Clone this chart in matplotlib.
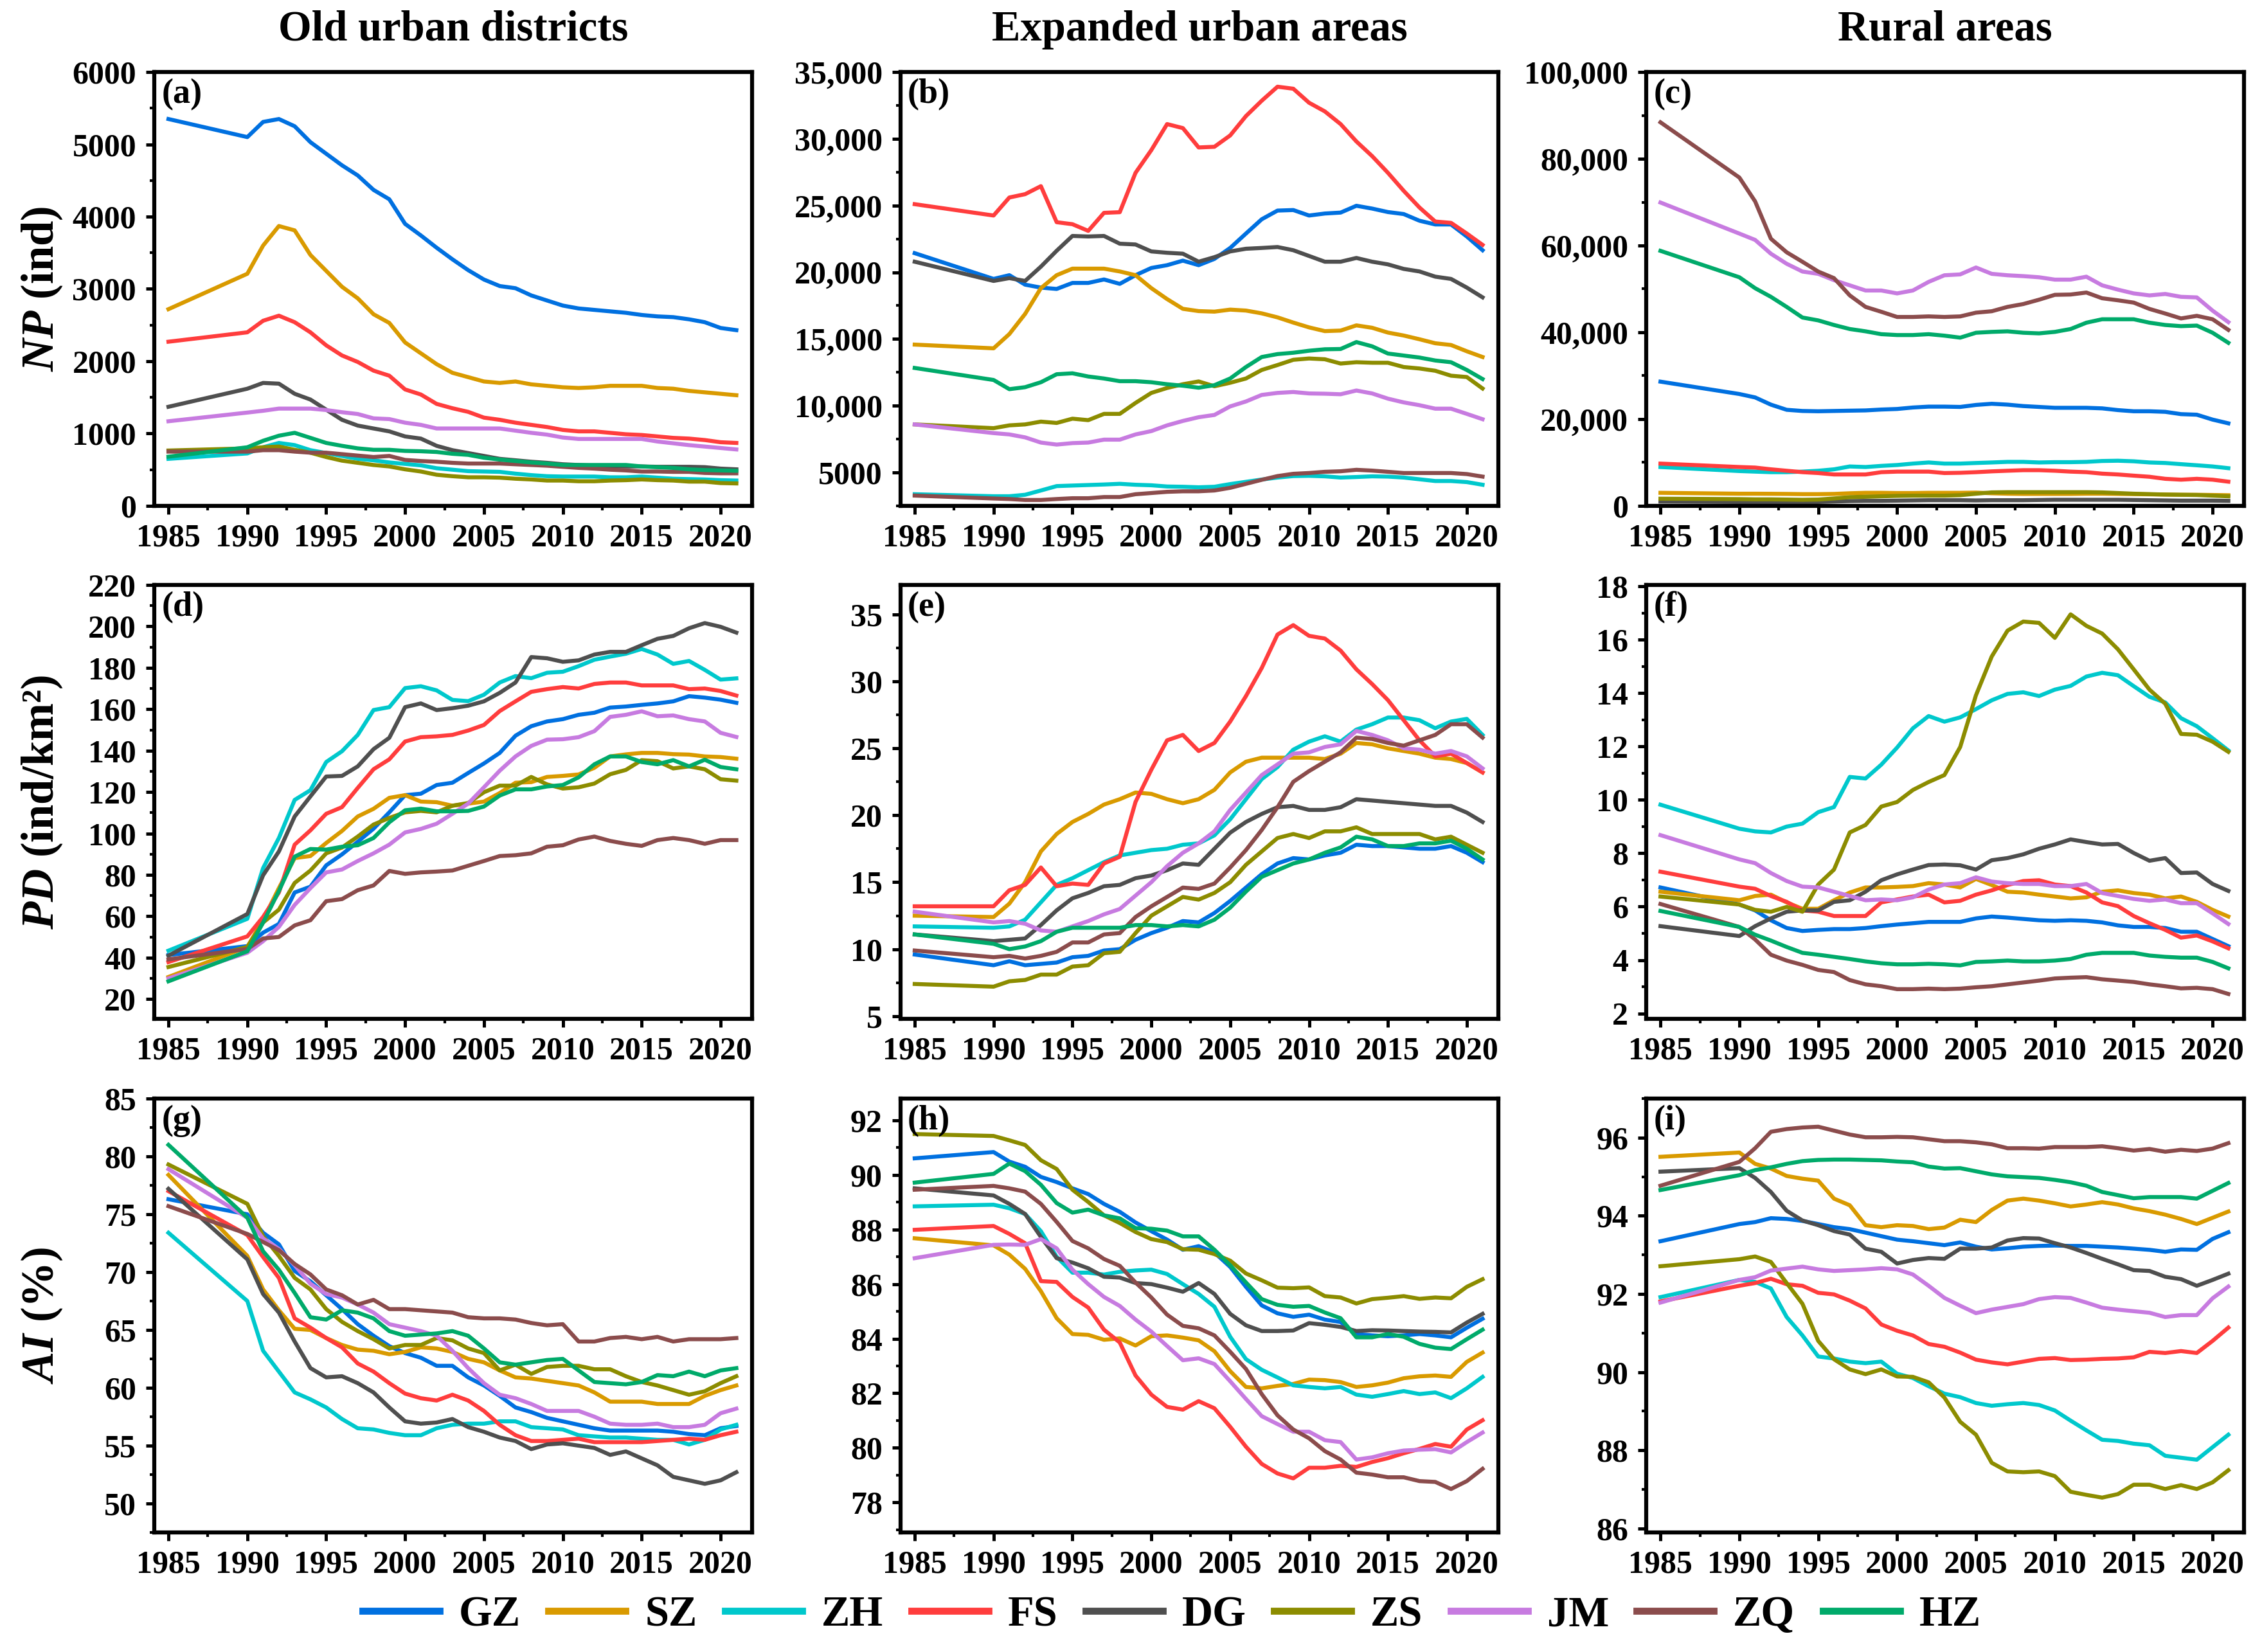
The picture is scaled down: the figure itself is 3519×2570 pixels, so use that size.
import matplotlib
matplotlib.use("Agg")
import matplotlib.pyplot as plt
from matplotlib.ticker import MultipleLocator, FuncFormatter

plt.rcParams["font.family"] = ["Liberation Serif", "DejaVu Serif"]
plt.rcParams["font.weight"] = "bold"
plt.rcParams["axes.labelweight"] = "bold"
plt.rcParams["mathtext.fontset"] = "custom"
plt.rcParams["mathtext.it"] = "Liberation Serif:bold:italic"
plt.rcParams["mathtext.rm"] = "Liberation Serif:bold"

YEARS = [1985] + list(range(1990, 2022))
CITIES = ["GZ", "SZ", "ZH", "FS", "DG", "ZS", "JM", "ZQ", "HZ"]
COLORS = ["#0070E0", "#D99A00", "#00C8CC", "#FF3D3D", "#4F4F4F",
          "#8C8C00", "#C77BE0", "#8B4C4C", "#00AA6A"]
COL_TITLES = ["Old urban districts", "Expanded urban areas", "Rural areas"]
ROW_LABELS = ["$NP$ (ind)", "$PD$ (ind/km²)", "$AI$ (%)"]

# NP, old urban districts
np_old = {
    "GZ": [5350, 5100, 5310, 5350, 5250, 5030, 4870, 4710, 4570, 4370, 4240, 3900, 3740, 3570, 3410, 3260, 3130,
           3040, 3010, 2910, 2840, 2770, 2730, 2710, 2690, 2670, 2640, 2620, 2610, 2580, 2540, 2460, 2430],
    "SZ": [2720, 3210, 3600, 3870, 3810, 3470, 3250, 3030, 2870, 2650, 2530, 2260, 2110, 1960, 1840, 1780, 1720,
           1700, 1720, 1680, 1660, 1640, 1630, 1640, 1660, 1660, 1660, 1630, 1620, 1590, 1570, 1550, 1530],
    "ZH": [650, 725, 810, 870, 840, 770, 730, 690, 650, 630, 600, 580, 560, 520, 500, 480, 475,
           470, 445, 425, 410, 405, 405, 405, 395, 395, 405, 390, 375, 370, 365, 355, 350],
    "FS": [2270, 2400, 2560, 2630, 2540, 2400, 2220, 2080, 1990, 1870, 1800, 1610, 1540, 1410, 1350, 1300, 1220,
           1190, 1150, 1120, 1090, 1050, 1030, 1030, 1010, 990, 980, 960, 940, 930, 910, 880, 870],
    "DG": [1370, 1620, 1700, 1690, 1550, 1470, 1330, 1190, 1110, 1070, 1030, 960, 930, 830, 770, 730, 690,
           650, 630, 610, 595, 575, 565, 555, 545, 545, 545, 540, 540, 540, 535, 515, 505],
    "ZS": [765, 795, 810, 820, 775, 735, 675, 625, 595, 565, 545, 505, 475, 430, 410, 395, 395,
           390, 375, 365, 350, 350, 340, 340, 350, 355, 365, 355, 350, 335, 335, 315, 310],
    "JM": [1170, 1290, 1315, 1345, 1345, 1345, 1325, 1295, 1270, 1210, 1200, 1150, 1120, 1070, 1070, 1070, 1070,
           1070, 1040, 1010, 985, 945, 925, 925, 925, 925, 925, 890, 865, 840, 820, 800, 780],
    "ZQ": [750, 750, 770, 770, 750, 735, 735, 715, 695, 675, 690, 635, 620, 610, 595, 585, 585,
           585, 575, 565, 555, 540, 525, 515, 500, 490, 475, 475, 470, 470, 455, 450, 450],
    "HZ": [680, 810, 900, 970, 1010, 940, 870, 830, 795, 775, 775, 760, 755, 745, 720, 705, 665,
           640, 620, 600, 585, 565, 565, 565, 565, 565, 545, 535, 525, 505, 495, 490, 485],
}

# NP, expanded urban areas
np_exp = {
    "GZ": [21430, 19500, 19780, 19070, 18850, 18750, 19200, 19200, 19460, 19130, 19780, 20320, 20530, 20870, 20530,
           21000, 21820, 22900, 23970, 24620, 24660, 24250, 24400, 24470, 24980, 24770, 24510, 24360, 23860, 23580,
           23580, 22680, 21650],
    "SZ": [14580, 14300, 15370, 16880, 18810, 19780, 20270, 20270, 20270, 20060, 19780, 18810, 17990, 17260, 17090,
           17050, 17200, 17130, 16920, 16620, 16230, 15870, 15590, 15630, 16020, 15840, 15480, 15260, 14980, 14680,
           14550, 14080, 13650],
    "ZH": [3370, 3220, 3220, 3330, 3650, 3980, 4020, 4060, 4100, 4150, 4080, 4040, 3950, 3930, 3890, 3930, 4130,
           4300, 4470, 4620, 4730, 4750, 4710, 4620, 4660, 4710, 4690, 4620, 4490, 4360, 4360, 4280, 4080],
    "FS": [25100, 24250, 25600, 25850, 26450, 23750, 23600, 23100, 24450, 24500, 27450, 29150, 31100, 30800, 29350,
           29400, 30250, 31700, 32850, 33900, 33750, 32700, 32050, 31100, 29800, 28700, 27450, 26100, 24850, 23800,
           23700, 22900, 22050],
    "DG": [20790, 19350, 19560, 19350, 20420, 21610, 22720, 22680, 22720, 22140, 22080, 21560, 21460, 21390, 20790,
           21130, 21560, 21760, 21820, 21890, 21650, 21220, 20790, 20790, 21070, 20790, 20590, 20250, 20060, 19670,
           19500, 18850, 18120],
    "ZS": [8600, 8320, 8530, 8600, 8810, 8710, 9030, 8920, 9390, 9390, 10210, 10960, 11330, 11610, 11820, 11460,
           11720, 12040, 12680, 13050, 13440, 13540, 13480, 13160, 13260, 13220, 13220, 12900, 12790, 12620, 12250,
           12150, 11290],
    "JM": [8600, 7950, 7850, 7630, 7240, 7090, 7200, 7240, 7460, 7460, 7850, 8100, 8530, 8860, 9140, 9310, 9950,
           10320, 10810, 10960, 11030, 10920, 10900, 10860, 11140, 10920, 10530, 10250, 10040, 9780, 9780, 9390, 8990],
    "ZQ": [3270, 3050, 3010, 2940, 2940, 3010, 3070, 3070, 3160, 3160, 3370, 3460, 3550, 3590, 3590, 3650, 3850,
           4150, 4450, 4730, 4900, 4960, 5050, 5090, 5200, 5140, 5050, 4960, 4960, 4960, 4960, 4880, 4690],
    "HZ": [12830, 11930, 11240, 11390, 11760, 12360, 12430, 12190, 12040, 11840, 11840, 11760, 11610, 11500, 11350,
           11540, 12040, 12900, 13650, 13870, 13970, 14120, 14230, 14250, 14770, 14450, 13910, 13760, 13610, 13390,
           13260, 12680, 12000],
}

# NP, rural areas
np_rur = {
    "GZ": [28630, 25780, 24990, 23330, 22140, 21870, 21800, 21870, 21940, 22000, 22200, 22330, 22670, 22870, 22870,
           22800, 23260, 23530, 23330, 23000, 22800, 22600, 22600, 22600, 22470, 22070, 21800, 21800, 21670, 21140,
           21010, 19880, 19020],
    "SZ": [3000, 2800, 2800, 2780, 2750, 2700, 2700, 2750, 2900, 3000, 3000, 2950, 2950, 3000, 3000, 3000, 3050,
           2900, 2800, 2750, 2750, 2750, 2750, 2800, 2800, 2750, 2700, 2650, 2600, 2550, 2550, 2500, 2450],
    "ZH": [8950, 8020, 7890, 7760, 7760, 7890, 8090, 8420, 9080, 8950, 9210, 9410, 9740, 10000, 9740, 9740, 9880,
           10000, 10140, 10140, 10000, 10070, 10070, 10140, 10340, 10400, 10270, 10000, 9880, 9610, 9350, 9080, 8680],
    "FS": [9740, 8950, 8820, 8420, 8090, 7760, 7560, 7230, 7230, 7230, 7760, 7890, 7890, 7890, 7560, 7620, 7760,
           7950, 8090, 8220, 8220, 8090, 7890, 7760, 7420, 7230, 6960, 6700, 6230, 6030, 6230, 6030, 5570],
    "DG": [1000, 900, 850, 850, 850, 850, 900, 1000, 1100, 1150, 1150, 1200, 1250, 1300, 1300, 1300, 1250,
           1300, 1300, 1300, 1350, 1400, 1400, 1400, 1400, 1400, 1350, 1300, 1250, 1200, 1200, 1200, 1150],
    "ZS": [1650, 1550, 1500, 1500, 1450, 1400, 1450, 1700, 2000, 2100, 2200, 2300, 2350, 2350, 2350, 2450, 2800,
           3100, 3150, 3150, 3150, 3150, 3150, 3150, 3100, 2950, 2800, 2700, 2600, 2550, 2500, 2350, 2200],
    "JM": [69920, 62760, 61300, 58120, 55800, 54010, 53480, 52020, 50830, 49640, 49640, 48970, 49640, 51630, 53150,
           53350, 54940, 53480, 53150, 52950, 52690, 52150, 52150, 52820, 50830, 49840, 48970, 48510, 48840, 48180,
           48050, 45000, 42350],
    "ZQ": [88410, 75680, 70180, 61570, 58450, 56260, 54010, 52490, 48510, 45860, 44730, 43540, 43540, 43670, 43540,
           43670, 44530, 44860, 45860, 46520, 47520, 48640, 48710, 49170, 47850, 47380, 46850, 45390, 44330, 43200,
           43800, 43010, 40560],
    "HZ": [58780, 52690, 50170, 48180, 45860, 43410, 42750, 41690, 40760, 40230, 39570, 39370, 39370, 39570, 39230,
           38770, 39900, 40100, 40230, 39900, 39760, 40100, 40760, 42220, 43010, 43010, 43010, 42220, 41690, 41420,
           41550, 39900, 37580],
}

# PD, old urban districts
pd_old = {
    "GZ": [41.3, 45.6, 52.1, 56.3, 71.5, 74.3, 84.6, 89.9, 96.0, 102.3, 110.2, 118.5, 119.2, 123.4, 124.5, 129.2,
           133.8, 138.9, 147.2, 151.8, 154.1, 155.2, 157.3, 158.3, 160.8, 161.3, 162.1, 162.8, 163.8, 166.3, 165.6,
           164.6, 163.1],
    "SZ": [30.7, 45.2, 58.3, 73.6, 88.1, 89.1, 95.4, 101.2, 108.2, 111.9, 117.2, 118.5, 115.4, 115.1, 113.4, 114.4,
           115.4, 119.5, 124.5, 124.8, 127.3, 127.8, 128.5, 131.7, 137.2, 138.2, 138.9, 138.9, 138.3, 138.1, 137.2,
           136.9, 136.1],
    "ZH": [43.4, 58.8, 83.3, 97.8, 116.2, 120.9, 134.5, 139.7, 147.6, 159.6, 161.0, 170.2, 171.1, 169.1, 164.5,
           163.9, 167.0, 172.9, 176.0, 175.0, 177.6, 178.1, 180.8, 183.9, 185.4, 186.8, 189.1, 186.4, 181.9, 183.3,
           179.0, 174.3, 174.9],
    "FS": [37.9, 50.3, 59.7, 71.5, 94.6, 101.5, 109.5, 112.7, 122.0, 131.0, 135.8, 144.4, 146.5, 146.9, 147.6,
           149.7, 152.4, 159.1, 163.8, 168.4, 169.7, 170.7, 170.0, 172.2, 172.9, 172.9, 171.5, 171.5, 171.5, 169.7,
           170.0, 168.8, 166.6],
    "DG": [41.0, 61.1, 79.8, 91.3, 108.2, 117.9, 127.5, 127.8, 132.4, 140.7, 146.2, 161.0, 162.8, 159.6, 160.5,
           161.7, 163.8, 167.9, 172.9, 185.2, 184.6, 182.9, 183.6, 186.4, 187.7, 187.7, 190.9, 194.0, 195.4, 199.1,
           201.6, 199.8, 197.0],
    "ZS": [35.5, 45.2, 57.0, 63.2, 76.1, 82.1, 90.4, 93.2, 98.5, 104.3, 107.5, 110.2, 110.9, 110.2, 113.4, 114.7,
           119.9, 123.1, 123.1, 127.3, 123.7, 121.7, 122.3, 124.1, 128.6, 130.7, 135.4, 134.9, 131.4, 132.4, 131.0,
           126.2, 125.5],
    "JM": [30.0, 42.4, 48.0, 54.9, 65.5, 73.6, 81.2, 82.6, 86.7, 90.4, 94.6, 100.5, 102.2, 104.7, 109.5, 114.4,
           122.3, 130.3, 137.2, 142.3, 145.3, 145.5, 146.5, 149.4, 156.3, 157.3, 159.0, 156.6, 157.0, 155.2, 154.1,
           148.6, 146.6],
    "ZQ": [39.2, 44.2, 49.3, 50.0, 55.6, 58.1, 67.3, 68.3, 72.6, 74.9, 81.9, 80.5, 81.2, 81.6, 82.1, 84.4, 86.7,
           89.1, 89.5, 90.4, 93.6, 94.3, 97.1, 98.5, 96.4, 95.0, 94.0, 96.8, 97.8, 96.8, 95.0, 96.8, 96.8],
    "HZ": [28.6, 43.1, 57.0, 72.2, 88.8, 92.5, 92.2, 93.6, 94.3, 97.8, 105.4, 111.2, 112.0, 110.7, 110.7, 110.9,
           113.0, 118.3, 121.3, 121.3, 122.7, 123.4, 127.1, 133.4, 137.2, 137.2, 134.5, 133.4, 135.4, 132.4, 135.6,
           132.1, 131.0],
}

# PD, expanded urban areas
pd_exp = {
    "GZ": [9.6, 8.8, 9.1, 8.8, 8.9, 9.0, 9.4, 9.5, 9.9, 10.0, 10.7, 11.2, 11.6, 12.1, 12.0, 12.7, 13.6, 14.6, 15.6,
           16.4, 16.8, 16.7, 17.0, 17.2, 17.8, 17.7, 17.7, 17.6, 17.5, 17.5, 17.7, 17.2, 16.5],
    "SZ": [12.5, 12.4, 13.4, 15.0, 17.3, 18.6, 19.5, 20.1, 20.8, 21.2, 21.7, 21.6, 21.2, 20.9, 21.2, 21.9, 23.2,
           24.0, 24.3, 24.3, 24.3, 24.3, 24.2, 24.6, 25.4, 25.3, 25.0, 24.8, 24.6, 24.3, 24.2, 23.9, 23.2],
    "ZH": [11.7, 11.6, 11.7, 12.2, 13.5, 14.8, 15.3, 15.9, 16.5, 17.0, 17.2, 17.4, 17.5, 17.8, 17.9, 18.5, 19.7,
           21.2, 22.7, 23.6, 24.9, 25.5, 25.9, 25.5, 26.4, 26.8, 27.3, 27.3, 27.1, 26.5, 27.0, 27.2, 26.0],
    "FS": [13.2, 13.2, 14.4, 14.8, 16.1, 14.7, 14.9, 14.8, 16.4, 16.9, 21.0, 23.4, 25.6, 26.0, 24.8, 25.4, 27.0,
           28.9, 31.0, 33.5, 34.2, 33.4, 33.2, 32.3, 30.9, 29.8, 28.6, 27.1, 25.6, 24.4, 24.6, 23.9, 23.2],
    "DG": [11.1, 10.6, 10.7, 10.8, 11.8, 12.9, 13.8, 14.2, 14.7, 14.8, 15.3, 15.5, 15.9, 16.4, 16.3, 17.5, 18.7,
           19.5, 20.1, 20.6, 20.7, 20.4, 20.4, 20.6, 21.2, 21.1, 21.0, 20.9, 20.8, 20.7, 20.7, 20.2, 19.5],
    "ZS": [7.4, 7.2, 7.6, 7.7, 8.1, 8.1, 8.7, 8.8, 9.7, 9.8, 11.2, 12.5, 13.2, 13.9, 13.7, 14.2, 15.0, 16.3, 17.3,
           18.3, 18.6, 18.3, 18.8, 18.8, 19.1, 18.6, 18.6, 18.6, 18.6, 18.2, 18.4, 17.8, 17.2],
    "JM": [12.8, 12.0, 12.1, 11.9, 11.4, 11.3, 11.7, 12.1, 12.6, 13.0, 14.0, 15.0, 16.2, 17.2, 17.9, 18.8, 20.4,
           21.7, 23.0, 23.8, 24.6, 24.7, 25.1, 25.3, 26.3, 26.0, 25.6, 25.0, 24.9, 24.6, 24.8, 24.4, 23.5],
    "ZQ": [9.9, 9.4, 9.5, 9.3, 9.5, 9.8, 10.5, 10.5, 11.1, 11.2, 12.4, 13.2, 13.9, 14.6, 14.5, 14.9, 16.1, 17.4,
           18.9, 20.6, 22.5, 23.3, 24.0, 24.7, 25.8, 25.7, 25.4, 25.2, 25.6, 26.0, 26.8, 26.8, 25.8],
    "HZ": [11.1, 10.4, 10.0, 10.2, 10.6, 11.3, 11.6, 11.6, 11.6, 11.6, 11.8, 11.8, 11.7, 11.8, 11.7, 12.2, 13.1,
           14.3, 15.4, 15.9, 16.4, 16.7, 17.2, 17.6, 18.4, 18.2, 17.7, 17.7, 17.9, 17.9, 18.1, 17.5, 16.7],
}

# PD, rural areas
pd_rur = {
    "GZ": [6.72, 6.08, 5.86, 5.49, 5.20, 5.09, 5.13, 5.16, 5.16, 5.20, 5.27, 5.33, 5.38, 5.43, 5.43, 5.43, 5.56,
           5.63, 5.59, 5.54, 5.49, 5.47, 5.49, 5.47, 5.41, 5.30, 5.24, 5.24, 5.20, 5.06, 5.06, 4.79, 4.52],
    "SZ": [6.56, 6.24, 6.40, 6.45, 6.16, 5.92, 5.92, 6.24, 6.53, 6.72, 6.72, 6.74, 6.77, 6.88, 6.83, 6.72, 7.04,
           6.81, 6.56, 6.53, 6.45, 6.38, 6.31, 6.35, 6.56, 6.61, 6.51, 6.45, 6.31, 6.38, 6.18, 5.88, 5.63],
    "ZH": [9.82, 8.92, 8.82, 8.78, 9.00, 9.11, 9.54, 9.73, 10.86, 10.80, 11.32, 11.96, 12.68, 13.14, 12.93, 13.09,
           13.40, 13.73, 13.97, 14.03, 13.89, 14.13, 14.27, 14.62, 14.76, 14.67, 14.26, 13.86, 13.65, 13.06, 12.76,
           12.31, 11.85],
    "FS": [7.31, 6.75, 6.67, 6.40, 6.18, 5.86, 5.81, 5.65, 5.65, 5.65, 6.16, 6.27, 6.38, 6.45, 6.16, 6.22, 6.45,
           6.61, 6.81, 6.96, 6.99, 6.83, 6.77, 6.53, 6.16, 6.02, 5.65, 5.38, 5.13, 4.84, 4.92, 4.70, 4.44],
    "DG": [5.27, 4.90, 5.27, 5.56, 5.81, 5.86, 5.86, 6.18, 6.24, 6.56, 6.99, 7.21, 7.39, 7.56, 7.58, 7.55, 7.39,
           7.74, 7.82, 7.96, 8.17, 8.33, 8.52, 8.42, 8.33, 8.35, 8.01, 7.72, 7.82, 7.26, 7.28, 6.85, 6.59],
    "ZS": [6.38, 6.08, 5.88, 5.81, 5.99, 5.81, 6.83, 7.39, 8.78, 9.06, 9.75, 9.92, 10.37, 10.67, 10.93, 11.98,
           13.92, 15.37, 16.34, 16.68, 16.63, 16.07, 16.95, 16.52, 16.23, 15.64, 14.89, 14.13, 13.60, 12.47, 12.44,
           12.18, 11.80],
    "JM": [8.68, 7.77, 7.63, 7.26, 6.96, 6.75, 6.72, 6.56, 6.40, 6.24, 6.27, 6.24, 6.35, 6.64, 6.83, 6.88, 7.10,
           6.94, 6.88, 6.85, 6.85, 6.77, 6.77, 6.85, 6.51, 6.40, 6.29, 6.22, 6.27, 6.13, 6.13, 5.75, 5.35],
    "ZQ": [6.10, 5.24, 4.77, 4.20, 3.98, 3.82, 3.63, 3.55, 3.25, 3.09, 3.02, 2.91, 2.91, 2.93, 2.91, 2.93, 2.98,
           3.02, 3.09, 3.16, 3.23, 3.31, 3.34, 3.36, 3.28, 3.23, 3.18, 3.09, 3.02, 2.94, 2.96, 2.91, 2.73],
    "HZ": [5.84, 5.24, 4.95, 4.73, 4.49, 4.27, 4.20, 4.12, 4.04, 3.95, 3.88, 3.84, 3.84, 3.86, 3.84, 3.80, 3.93,
           3.95, 3.98, 3.95, 3.95, 3.98, 4.04, 4.20, 4.27, 4.27, 4.27, 4.17, 4.12, 4.09, 4.09, 3.93, 3.69],
}

# AI, old urban districts
ai_old = {
    "GZ": [76.3, 75.0, 73.4, 72.4, 70.1, 69.2, 68.0, 66.8, 65.5, 64.5, 63.6, 63.0, 62.6, 61.9, 61.9, 60.9, 60.2,
           59.3, 58.3, 57.9, 57.4, 57.1, 56.8, 56.5, 56.3, 56.3, 56.3, 56.3, 56.2, 56.0, 55.9, 56.5, 56.7],
    "SZ": [78.4, 71.4, 68.5, 66.7, 65.1, 65.0, 64.3, 63.7, 63.3, 63.2, 62.9, 63.1, 63.5, 63.4, 63.1, 62.5, 62.2,
           61.5, 60.9, 60.8, 60.6, 60.4, 60.2, 59.6, 58.8, 58.8, 58.8, 58.6, 58.6, 58.6, 59.3, 59.8, 60.2],
    "ZH": [73.4, 67.5, 63.2, 61.4, 59.6, 59.0, 58.3, 57.3, 56.5, 56.4, 56.1, 55.9, 55.9, 56.5, 56.8, 56.9, 56.9,
           57.1, 57.1, 56.6, 56.5, 56.4, 55.9, 55.8, 55.7, 55.7, 55.6, 55.5, 55.5, 55.1, 55.5, 56.4, 56.8],
    "FS": [77.0, 73.2, 71.3, 69.5, 66.0, 65.2, 64.3, 63.5, 62.1, 61.4, 60.4, 59.5, 59.1, 58.9, 59.4, 58.9, 58.0,
           56.8, 55.9, 55.4, 55.4, 55.5, 55.6, 55.3, 55.3, 55.3, 55.3, 55.4, 55.5, 55.6, 55.5, 55.9, 56.2],
    "DG": [77.2, 71.1, 68.1, 66.5, 64.0, 61.7, 60.9, 61.0, 60.4, 59.6, 58.3, 57.1, 56.9, 57.0, 57.3, 56.6, 56.2,
           55.7, 55.4, 54.7, 55.1, 55.2, 55.0, 54.8, 54.2, 54.5, 53.9, 53.3, 52.3, 52.0, 51.7, 52.0, 52.7],
    "ZS": [79.3, 75.9, 73.1, 71.4, 69.5, 68.5, 66.8, 65.7, 64.9, 64.2, 63.4, 63.7, 63.7, 64.3, 64.1, 63.4, 63.0,
           61.5, 62.0, 61.2, 61.8, 61.9, 61.9, 61.6, 61.6, 61.0, 60.5, 60.2, 59.8, 59.4, 59.7, 60.4, 61.0],
    "JM": [78.9, 74.7, 72.9, 72.0, 70.6, 69.0, 68.1, 67.8, 67.2, 66.5, 65.5, 65.2, 64.9, 64.5, 63.2, 61.7, 60.4,
           59.4, 59.1, 58.6, 58.0, 58.0, 58.0, 57.5, 56.9, 56.8, 56.8, 56.9, 56.6, 56.6, 56.8, 57.8, 58.2],
    "ZQ": [75.7, 73.3, 72.6, 71.9, 70.7, 69.8, 68.5, 68.0, 67.2, 67.6, 66.8, 66.8, 66.7, 66.6, 66.5, 66.1, 66.0,
           66.0, 65.9, 65.6, 65.4, 65.5, 64.0, 64.0, 64.3, 64.4, 64.2, 64.4, 64.0, 64.2, 64.2, 64.2, 64.3],
    "HZ": [81.0, 74.7, 71.8, 70.2, 68.2, 66.1, 65.9, 66.7, 66.5, 66.0, 64.9, 64.5, 64.6, 64.7, 64.9, 64.5, 63.4,
           62.2, 62.0, 62.2, 62.4, 62.5, 61.5, 60.5, 60.4, 60.3, 60.5, 61.1, 61.0, 61.4, 61.0, 61.5, 61.7],
}

# AI, expanded urban areas
ai_exp = {
    "GZ": [90.61, 90.84, 90.49, 90.30, 89.93, 89.74, 89.51, 89.30, 88.94, 88.65, 88.26, 87.94, 87.63, 87.26, 87.39,
           87.16, 86.63, 85.90, 85.22, 84.93, 84.80, 84.88, 84.70, 84.61, 84.17, 84.12, 84.09, 84.12, 84.17, 84.12,
           84.05, 84.40, 84.73],
    "SZ": [87.68, 87.42, 87.08, 86.56, 85.74, 84.75, 84.17, 84.14, 83.96, 84.01, 83.75, 84.09, 84.12, 84.04, 83.94,
           83.54, 82.81, 82.23, 82.18, 82.27, 82.34, 82.50, 82.48, 82.41, 82.23, 82.29, 82.39, 82.55, 82.62, 82.65,
           82.60, 83.15, 83.49],
    "ZH": [88.85, 88.91, 88.78, 88.57, 87.94, 87.00, 86.42, 86.42, 86.35, 86.45, 86.50, 86.53, 86.37, 86.00, 85.64,
           85.17, 84.07, 83.25, 82.86, 82.58, 82.29, 82.23, 82.18, 82.23, 81.95, 81.87, 81.97, 82.08, 81.97, 82.03,
           81.82, 82.18, 82.60],
    "FS": [87.99, 88.13, 87.84, 87.50, 86.11, 86.08, 85.53, 85.14, 84.33, 83.86, 82.65, 81.95, 81.50, 81.40, 81.71,
           81.45, 80.77, 80.04, 79.41, 79.06, 78.88, 79.27, 79.27, 79.34, 79.30, 79.48, 79.62, 79.80, 79.96, 80.14,
           80.04, 80.67, 81.01],
    "DG": [89.51, 89.25, 88.94, 88.57, 87.73, 86.95, 86.79, 86.58, 86.27, 86.24, 86.04, 86.00, 85.87, 85.72, 86.04,
           85.64, 84.91, 84.49, 84.28, 84.28, 84.30, 84.57, 84.51, 84.43, 84.28, 84.31, 84.30, 84.28, 84.26, 84.25,
           84.23, 84.59, 84.91],
    "ZS": [91.50, 91.43, 91.27, 91.10, 90.54, 90.22, 89.46, 89.01, 88.52, 88.24, 87.91, 87.65, 87.54, 87.28, 87.26,
           87.10, 86.86, 86.39, 86.14, 85.87, 85.85, 85.88, 85.56, 85.51, 85.29, 85.45, 85.50, 85.56, 85.46, 85.51,
           85.48, 85.90, 86.18],
    "JM": [86.95, 87.44, 87.45, 87.44, 87.65, 87.31, 86.53, 86.00, 85.53, 85.20, 84.70, 84.26, 83.73, 83.21, 83.28,
           83.07, 82.44, 81.79, 81.16, 80.87, 80.59, 80.59, 80.28, 80.21, 79.57, 79.65, 79.80, 79.90, 79.93, 79.95,
           79.83, 80.21, 80.56],
    "ZQ": [89.46, 89.60, 89.51, 89.39, 88.94, 88.28, 87.58, 87.31, 86.92, 86.67, 86.06, 85.51, 84.88, 84.47, 84.38,
           84.12, 83.52, 82.89, 81.97, 81.19, 80.67, 80.35, 79.88, 79.57, 79.09, 79.02, 78.92, 78.92, 78.78, 78.75,
           78.49, 78.78, 79.23],
    "HZ": [89.72, 90.04, 90.42, 90.14, 89.64, 88.97, 88.62, 88.73, 88.52, 88.41, 88.05, 88.03, 87.96, 87.75, 87.75,
           87.26, 86.69, 86.06, 85.45, 85.24, 85.17, 85.20, 84.96, 84.75, 84.05, 84.05, 84.17, 84.07, 83.81, 83.67,
           83.62, 83.98, 84.33],
}

# AI, rural areas
ai_rur = {
    "GZ": [93.35, 93.79, 93.84, 93.94, 93.92, 93.87, 93.79, 93.71, 93.66, 93.57, 93.48, 93.39, 93.35, 93.30, 93.25,
           93.32, 93.21, 93.14, 93.17, 93.21, 93.23, 93.24, 93.23, 93.23, 93.21, 93.19, 93.16, 93.13, 93.08, 93.14,
           93.13, 93.41, 93.58],
    "SZ": [95.51, 95.62, 95.33, 95.21, 95.02, 94.95, 94.90, 94.44, 94.27, 93.76, 93.71, 93.76, 93.74, 93.66, 93.70,
           93.90, 93.84, 94.15, 94.39, 94.44, 94.39, 94.32, 94.24, 94.29, 94.35, 94.29, 94.19, 94.12, 94.03, 93.92,
           93.79, 93.95, 94.11],
    "ZH": [91.92, 92.36, 92.31, 92.14, 91.41, 90.94, 90.40, 90.35, 90.27, 90.23, 90.27, 89.96, 89.85, 89.64, 89.45,
           89.36, 89.21, 89.14, 89.18, 89.21, 89.16, 89.02, 88.76, 88.51, 88.27, 88.24, 88.17, 88.13, 87.86, 87.81,
           87.76, 88.08, 88.40],
    "FS": [91.81, 92.21, 92.28, 92.39, 92.25, 92.21, 92.03, 91.99, 91.83, 91.63, 91.22, 91.06, 90.94, 90.72, 90.65,
           90.50, 90.32, 90.25, 90.20, 90.27, 90.34, 90.36, 90.31, 90.32, 90.34, 90.35, 90.38, 90.52, 90.49, 90.54,
           90.49, 90.80, 91.14],
    "DG": [95.13, 95.22, 94.97, 94.61, 94.13, 93.88, 93.76, 93.61, 93.52, 93.16, 93.08, 92.78, 92.87, 92.92, 92.90,
           93.16, 93.16, 93.19, 93.37, 93.43, 93.42, 93.30, 93.19, 93.05, 92.90, 92.76, 92.61, 92.59, 92.44, 92.38,
           92.21, 92.36, 92.52],
    "ZS": [92.71, 92.89, 92.96, 92.82, 92.28, 91.75, 90.80, 90.33, 90.07, 89.95, 90.07, 89.89, 89.88, 89.74, 89.35,
           88.73, 88.40, 87.68, 87.46, 87.44, 87.46, 87.34, 86.94, 86.86, 86.79, 86.88, 87.12, 87.12, 87.01, 87.11,
           87.01, 87.18, 87.49],
    "JM": [91.78, 92.36, 92.43, 92.60, 92.65, 92.70, 92.63, 92.59, 92.61, 92.63, 92.66, 92.63, 92.50, 92.21, 91.90,
           91.70, 91.51, 91.60, 91.67, 91.74, 91.87, 91.92, 91.90, 91.78, 91.65, 91.60, 91.56, 91.52, 91.41, 91.46,
           91.46, 91.89, 92.19],
    "ZQ": [94.77, 95.38, 95.73, 96.15, 96.22, 96.26, 96.28, 96.18, 96.08, 96.01, 96.01, 96.02, 96.01, 95.96, 95.91,
           95.91, 95.88, 95.83, 95.73, 95.73, 95.72, 95.76, 95.76, 95.76, 95.78, 95.73, 95.67, 95.71, 95.64, 95.69,
           95.66, 95.72, 95.86],
    "HZ": [94.66, 95.04, 95.17, 95.24, 95.33, 95.40, 95.43, 95.44, 95.44, 95.43, 95.42, 95.39, 95.37, 95.26, 95.21,
           95.22, 95.14, 95.06, 95.01, 94.99, 94.97, 94.92, 94.86, 94.77, 94.61, 94.53, 94.45, 94.48, 94.48, 94.48,
           94.44, 94.64, 94.84],
}

# (data, ylim, first major tick, major step, minor step)
PANELS = [
    (np_old, (0, 6000), 0, 1000, 500),
    (np_exp, (2500, 35000), 5000, 5000, 2500),
    (np_rur, (0, 100000), 0, 20000, 10000),
    (pd_old, (10.5, 220), 20, 20, 10),
    (pd_exp, (4.8, 37.2), 5, 5, 2.5),
    (pd_rur, (1.8, 18.05), 2, 2, 1),
    (ai_old, (47.5, 85), 50, 5, 2.5),
    (ai_exp, (76.9, 92.8), 78, 2, 1),
    (ai_rur, (85.9, 97.0), 86, 2, 1),
]
LETTERS = "abcdefghi"


def tick_fmt(v, pos):
    if abs(v) >= 10000:
        return f"{int(round(v)):,}"
    return f"{v:g}"


def main():
    fig = plt.figure(figsize=(3519 / 300, 2570 / 300), dpi=300)
    lefts = [0.0682, 0.3981, 0.7278]
    bottoms = [0.6938, 0.3833, 0.0724]
    w, h = 0.2643, 0.2626

    handles = []
    for i, (data, ylim, y0, step, minor) in enumerate(PANELS):
        r, c = divmod(i, 3)
        ax = fig.add_axes([lefts[c], bottoms[r], w, h])
        for city, col in zip(CITIES, COLORS):
            ln, = ax.plot(YEARS, data[city], color=col, lw=1.5, label=city)
            if i == 0:
                handles.append(ln)
        ax.set_xlim(1984.1, 2022)
        ax.set_ylim(*ylim)
        ax.set_xticks(range(1985, 2021, 5))
        ax.xaxis.set_minor_locator(MultipleLocator(2.5))
        yt = []
        v = y0
        while v <= ylim[1] + 1e-9:
            yt.append(v)
            v += step
        ax.set_yticks(yt)
        ax.yaxis.set_minor_locator(MultipleLocator(minor))
        ax.yaxis.set_major_formatter(FuncFormatter(tick_fmt))
        ax.tick_params(which="major", direction="out", length=3.2, width=1.2,
                       labelsize=12, pad=3.5)
        ax.tick_params(which="minor", direction="out", length=1.6, width=1.0)
        for lab in ax.get_xticklabels() + ax.get_yticklabels():
            lab.set_fontweight("bold")
        for sp in ax.spines.values():
            sp.set_linewidth(1.5)
        ax.text(0.012, 0.985, f"({LETTERS[i]})", transform=ax.transAxes,
                ha="left", va="top", fontsize=13, fontweight="bold")

        if r == 0:
            fig.text(lefts[c] + w / 2, 0.982, COL_TITLES[c], ha="center",
                     va="center", fontsize=16, fontweight="bold")
        if c == 0:
            fig.text(0.0185, bottoms[r] + h / 2, ROW_LABELS[r], rotation=90,
                     ha="center", va="center", fontsize=17, fontweight="bold")

    leg = fig.legend(handles=handles, labels=CITIES, loc="center",
                     bbox_to_anchor=(0.518, 0.0222), ncol=9, frameon=False,
                     prop={"size": 16, "weight": "bold"}, handlelength=1.8,
                     handletextpad=0.45, columnspacing=0.65)
    for ln in leg.get_lines():
        ln.set_linewidth(2.6)

    fig.savefig("out.png", dpi=300)


if __name__ == "__main__":
    main()
